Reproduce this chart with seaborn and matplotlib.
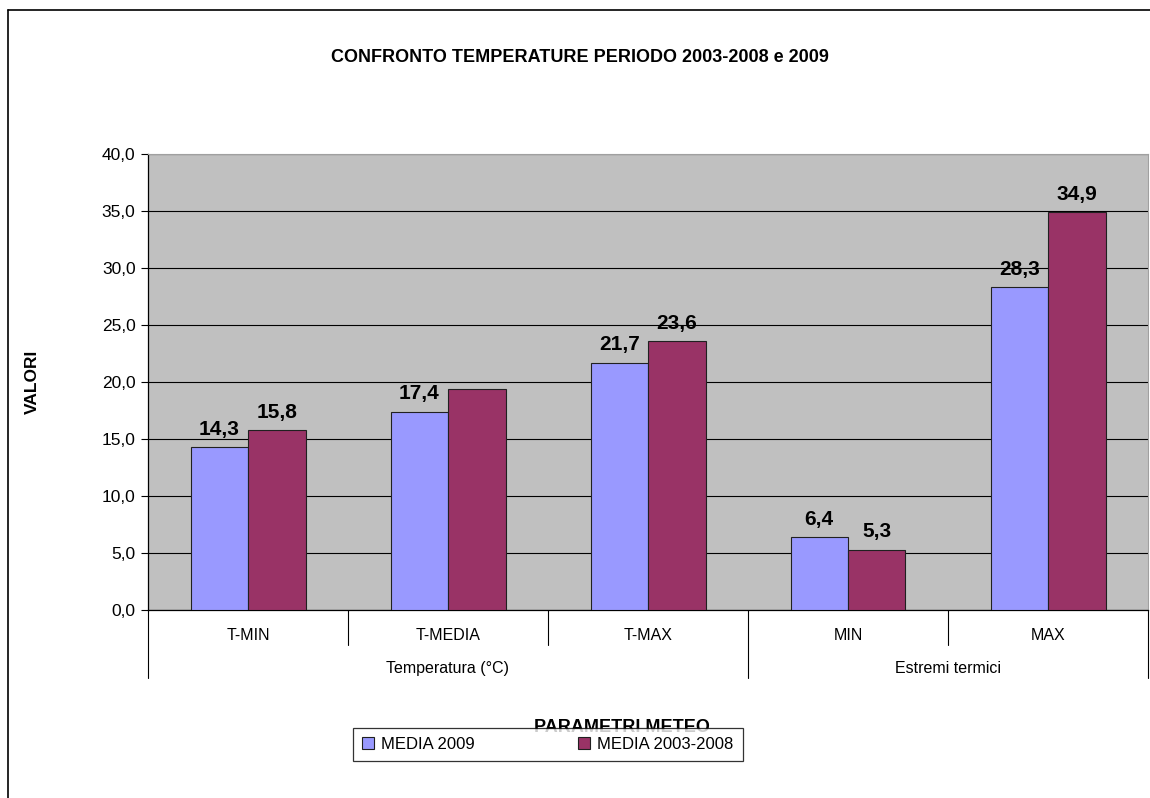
import numpy as np
import pandas as pd
import seaborn as sns
import matplotlib.pyplot as plt
from matplotlib.ticker import FuncFormatter, MultipleLocator
from matplotlib.lines import Line2D
import matplotlib.transforms as mtransforms

# %% data
categorie = ['T-MIN', 'T-MEDIA', 'T-MAX', 'MIN', 'MAX']
gruppi = ['Temperatura (°C)', 'Estremi termici']
gruppo_span = [(0, 2), (3, 4)]   # first/last category index per group
serie = ['MEDIA 2009', 'MEDIA 2003-2008']
media_2009 = [14.3, 17.4, 21.7, 6.4, 28.3]
media_2003_2008 = [15.8, 19.4, 23.6, 5.3, 34.9]
# the 2003-2008 T-MEDIA value has no label in the original
etichette_2009 = ['14,3', '17,4', '21,7', '6,4', '28,3']
etichette_2003_2008 = ['15,8', '', '23,6', '5,3', '34,9']
colori = ['#9999FF', '#993366']

df = pd.DataFrame({
    'categoria': categorie * 2,
    'serie': [serie[0]] * len(categorie) + [serie[1]] * len(categorie),
    'valore': media_2009 + media_2003_2008,
})

# %% figure
sns.set_style('white')
plt.rcParams['font.family'] = ['Liberation Sans', 'DejaVu Sans']
plt.rcParams['text.color'] = 'black'
plt.rcParams['ytick.color'] = 'black'
plt.rcParams['ytick.labelcolor'] = 'black'

fig = plt.figure(figsize=(11.5, 7.98), dpi=100)
ax = fig.add_axes([148 / 1150, 1 - 610 / 798, 1000 / 1150, 456 / 798])
ax.set_facecolor('#C0C0C0')

sns.barplot(data=df, x='categoria', y='valore', hue='serie', order=categorie,
            hue_order=serie, palette=colori, saturation=1, width=0.575,
            edgecolor='#202020', linewidth=0.8, legend=False, ax=ax, zorder=3)

for cont, lab in zip(ax.containers, [etichette_2009, etichette_2003_2008]):
    ax.bar_label(cont, labels=lab, padding=6, fontsize=15, fontweight='bold', color='black')

ax.set_ylim(0, 40)
ax.set_xlim(-0.5, len(categorie) - 0.5)
ax.yaxis.set_major_locator(MultipleLocator(5))
ax.yaxis.set_major_formatter(FuncFormatter(lambda v, p: f'{v:.1f}'.replace('.', ',')))
ax.grid(axis='y', color='black', linewidth=0.8, zorder=1)
ax.set_axisbelow(True)
ax.tick_params(axis='y', direction='out', length=5, width=0.8, labelsize=12.5, left=True, pad=4)
ax.tick_params(axis='x', bottom=False, labelbottom=False)
ax.set_xlabel('')
ax.set_ylabel('')
for s in ['top', 'right']:
    ax.spines[s].set_color('#A0A0A0')
for s in ['left', 'bottom']:
    ax.spines[s].set_color('black')
    ax.spines[s].set_linewidth(0.9)

# two-level category axis
trans = mtransforms.blended_transform_factory(ax.transData, ax.transAxes)
group_edges = {-0.5} | {g[1] + 0.5 for g in gruppo_span}
for i in range(len(categorie) + 1):
    xe = i - 0.5
    y_end = -0.149 if xe in group_edges else -0.077
    ax.add_line(Line2D([xe, xe], [0, y_end], transform=trans, color='black',
                       linewidth=0.8, clip_on=False))
for i, c in enumerate(categorie):
    ax.text(i, -0.057, c, transform=trans, ha='center', va='center', fontsize=11.5)
for g, (a, b) in zip(gruppi, gruppo_span):
    ax.text((a + b) / 2, -0.129, g, transform=trans, ha='center', va='center', fontsize=11.5)

# titles
fig.text(580 / 1150, 1 - 57 / 798, 'CONFRONTO TEMPERATURE PERIODO 2003-2008 e 2009',
         ha='center', va='center', fontsize=13, fontweight='bold')
fig.text(32 / 1150, 1 - 382 / 798, 'VALORI', rotation=90, ha='center', va='center',
         fontsize=12.5, fontweight='bold')
fig.text(622 / 1150, 1 - 727 / 798, 'PARAMETRI METEO', ha='center', va='center',
         fontsize=13, fontweight='bold', zorder=1)

# legend
handles = [plt.Rectangle((0, 0), 1, 1, facecolor=c, edgecolor='#202020', linewidth=0.8) for c in colori]
leg = fig.legend(handles, serie, loc='center', bbox_to_anchor=(547.5 / 1150, 1 - 744.5 / 798),
                 ncol=2, fontsize=12, frameon=True, fancybox=False, edgecolor='black',
                 handlelength=0.75, handleheight=0.75, handletextpad=0.4, columnspacing=6.2,
                 borderpad=0.55, borderaxespad=0)
leg.get_frame().set_linewidth(0.9)
leg.set_zorder(5)

# outer chart frame (left and top only)
fig.add_artist(Line2D([8 / 1150, 8 / 1150], [0, 1 - 10 / 798], transform=fig.transFigure,
                      color='black', linewidth=1.2))
fig.add_artist(Line2D([8 / 1150, 1], [1 - 10 / 798, 1 - 10 / 798], transform=fig.transFigure,
                      color='black', linewidth=1.2))

fig.savefig('out.png', dpi=100, facecolor='white')
